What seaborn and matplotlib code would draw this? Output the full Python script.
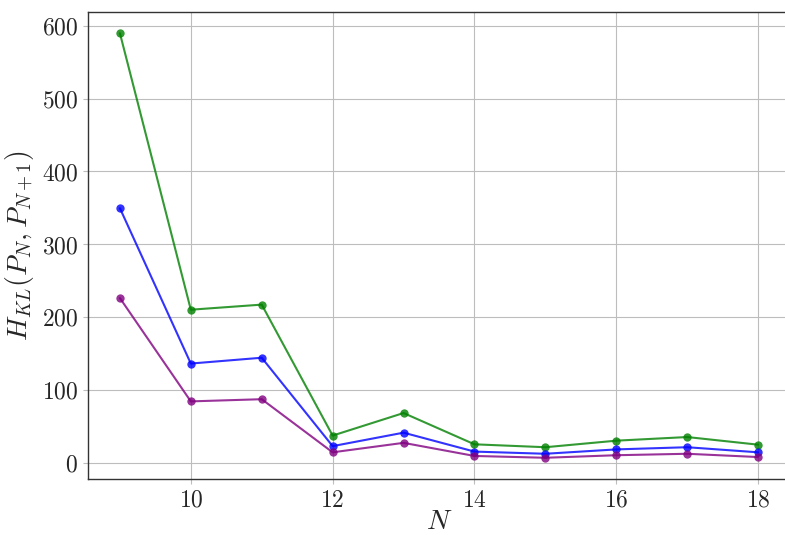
import matplotlib
matplotlib.use("Agg")
import matplotlib.pyplot as plt
from matplotlib.ticker import FuncFormatter
import seaborn as sns
import pandas as pd

N = [9, 10, 11, 12, 13, 14, 15, 16, 17, 18]
green_vals = [590, 210, 217, 37, 68, 25, 21, 30, 35, 24.5]
blue_vals = [349.5, 136, 144, 22.5, 41, 15, 12, 18, 21, 14]
purple_vals = [226, 84, 87, 14, 27, 9, 6.5, 10, 12, 7.5]

sns.set_style("ticks")
plt.rcParams["mathtext.fontset"] = "cm"
plt.rcParams["font.family"] = ["DejaVu Serif"]

fig = plt.figure(figsize=(7.85, 5.35), dpi=100)
ax = fig.add_axes([88/785, 56/535, 702/785, 467/535])

series = [(green_vals, "green"), (blue_vals, "blue"), (purple_vals, "purple")]
for vals, col in series:
    df = pd.DataFrame({"N": N, "v": vals})
    sns.lineplot(data=df, x="N", y="v", ax=ax, color=col, alpha=0.8,
                 marker="o", markersize=6, markeredgewidth=0, linewidth=1.5)

ax.grid(True, color="#bdbdbd", linewidth=0.8)
ax.set_xticks([10, 12, 14, 16, 18])
ax.set_yticks([0, 100, 200, 300, 400, 500, 600])
fmt = FuncFormatter(lambda x, p: f"${x:g}$")
ax.xaxis.set_major_formatter(fmt)
ax.yaxis.set_major_formatter(fmt)
ax.tick_params(labelsize=17, color="#bdbdbd")
ax.set_xlabel(r"$N$", fontsize=20, labelpad=-3)
ax.set_ylabel(r"$H_{KL}(P_N,P_{N+1})$", fontsize=20)
for s in ax.spines.values():
    s.set_color("#333333")
    s.set_linewidth(1.0)

fig.savefig("out.png", dpi=100)
